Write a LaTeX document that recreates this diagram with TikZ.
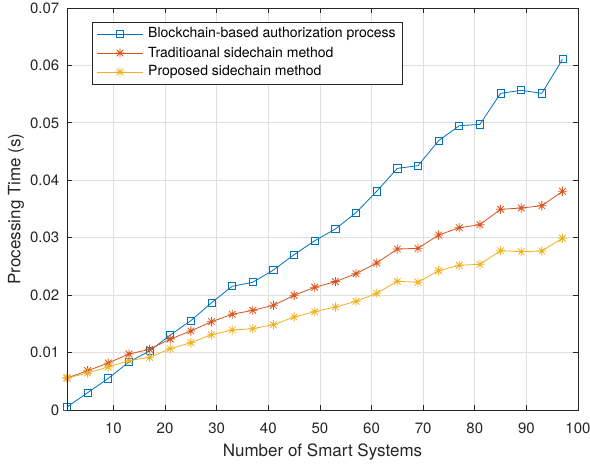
\documentclass[tikz,border=0pt]{standalone}
\usepackage{fontspec}
\setmainfont{TeX Gyre Heros}
\usepackage{tikz}
\usetikzlibrary{positioning}
\definecolor{lineblue}{RGB}{0,114,189}
\definecolor{linered}{RGB}{217,83,25}
\definecolor{lineyellow}{RGB}{237,177,32}
\definecolor{axisgray}{RGB}{38,38,38}
\definecolor{gridgray}{RGB}{223,223,223}

% measured values (ms)
\newcommand{\blueData}{1/0.52, 5/3.02, 9/5.51, 13/8.36, 17/10.27, 21/13.06, 25/15.56, 29/18.68, 33/21.54, 37/22.24, 41/24.38, 45/27.05, 49/29.48, 53/31.52, 57/34.36, 61/38.08, 65/42.08, 69/42.54, 73/46.90, 77/49.50, 81/49.74, 85/55.14, 89/55.67, 93/55.14, 97/61.07}
\newcommand{\redData}{1/5.57, 5/6.85, 9/8.18, 13/9.75, 17/10.56, 21/12.36, 25/13.76, 29/15.38, 33/16.66, 37/17.36, 41/18.23, 45/19.97, 49/21.37, 53/22.35, 57/23.74, 61/25.60, 65/28.03, 69/28.15, 73/30.47, 77/31.74, 81/32.27, 85/34.94, 89/35.17, 93/35.57, 97/38.08}
\newcommand{\yellowData}{1/5.57, 5/6.44, 9/7.49, 13/8.59, 17/9.17, 21/10.68, 25/11.72, 29/13.11, 33/13.93, 37/14.16, 41/14.85, 45/16.19, 49/17.12, 53/17.93, 57/18.92, 61/20.32, 65/22.41, 69/22.24, 73/24.26, 77/25.20, 81/25.37, 85/27.74, 89/27.57, 93/27.69, 97/29.90}

\begin{document}
\begin{tikzpicture}[
    x=1pt, y=1pt,
    gridline/.style={gridgray, line width=0.8pt},
    axisline/.style={axisgray, line width=0.8pt},
    ticklabel/.style={text=axisgray, font=\fontsize{15}{17}\selectfont, inner sep=0pt},
    axislabel/.style={text=axisgray, font=\fontsize{17}{19}\selectfont, inner sep=0pt},
    legtext/.style={text=black, font=\fontsize{14}{16}\selectfont, inner sep=0pt, anchor=west},
    curve/.style={line width=0.8pt, line join=round},
    sqmark/.pic={\draw[line width=0.8pt] (-3.6pt,-3.6pt) rectangle (3.6pt,3.6pt);},
    starmark/.pic={\draw[line width=0.8pt] (-4.6pt,0) -- (4.6pt,0) (0,-4.6pt) -- (0,4.6pt)
        (-3.3pt,-3.3pt) -- (3.3pt,3.3pt) (-3.3pt,3.3pt) -- (3.3pt,-3.3pt);}
]
\useasboundingbox (0,0) rectangle (590,466);

\begin{scope}[shift={(61.84,56)}, x=5.1616pt, y=5.7429pt]
% grid
\foreach \gx in {10,20,...,90}
    \draw[gridline] (\gx,0) -- (\gx,70);
\foreach \gy in {10,20,...,60}
    \draw[gridline] (1,\gy) -- (100,\gy);

% curves
\draw[curve, lineblue] (1,0.52) \foreach \px/\py in \blueData {-- (\px,\py)};
\foreach \px/\py in \blueData
    \pic[lineblue] at (\px,\py) {sqmark};
\draw[curve, linered] (1,5.57) \foreach \px/\py in \redData {-- (\px,\py)};
\foreach \px/\py in \redData
    \pic[linered] at (\px,\py) {starmark};
\draw[curve, lineyellow] (1,5.57) \foreach \px/\py in \yellowData {-- (\px,\py)};
\foreach \px/\py in \yellowData
    \pic[lineyellow] at (\px,\py) {starmark};

% frame and ticks
\draw[axisline] (1,0) rectangle (100,70);
\foreach \gx in {10,20,...,100} {
    \draw[axisline] (\gx,0) -- ++(0,5pt);
    \draw[axisline] (\gx,70) -- ++(0,-5pt);
    \node[ticklabel, anchor=base] (xt\gx) at ([yshift=-23.5pt]\gx,0) {\gx};
}
\foreach \gy/\lab in {0/0, 10/0.01, 20/0.02, 30/0.03, 40/0.04, 50/0.05, 60/0.06, 70/0.07} {
    \draw[axisline] (1,\gy) -- ++(5pt,0);
    \draw[axisline] (100,\gy) -- ++(-5pt,0);
    \node[ticklabel, anchor=east] (yt\gy) at ([xshift=-7.5pt]1,\gy) {\lab};
}
\end{scope}

% axis labels
\node[axislabel] (xlab) at (322.5,14) {Number of Smart Systems};
\node[axislabel, rotate=90] (ylab) at (16,257) {Processing Time (s)};

% legend
\draw[axisline, fill=white] (92.3,381.7) rectangle (402,443.7);
\draw[curve, lineblue] (97,432) -- (143,432);
\pic[lineblue] at (120,432) {sqmark};
\node[legtext] (legblue) at (148,432) {Blockchain-based authorization process};
\draw[curve, linered] (97,413) -- (143,413);
\pic[linered] at (120,413) {starmark};
\node[legtext] (legred) at (148,413) {Traditioanal sidechain method};
\draw[curve, lineyellow] (97,394) -- (143,394);
\pic[lineyellow] at (120,394) {starmark};
\node[legtext] (legyellow) at (148,394) {Proposed sidechain method};
\end{tikzpicture}
\end{document}
